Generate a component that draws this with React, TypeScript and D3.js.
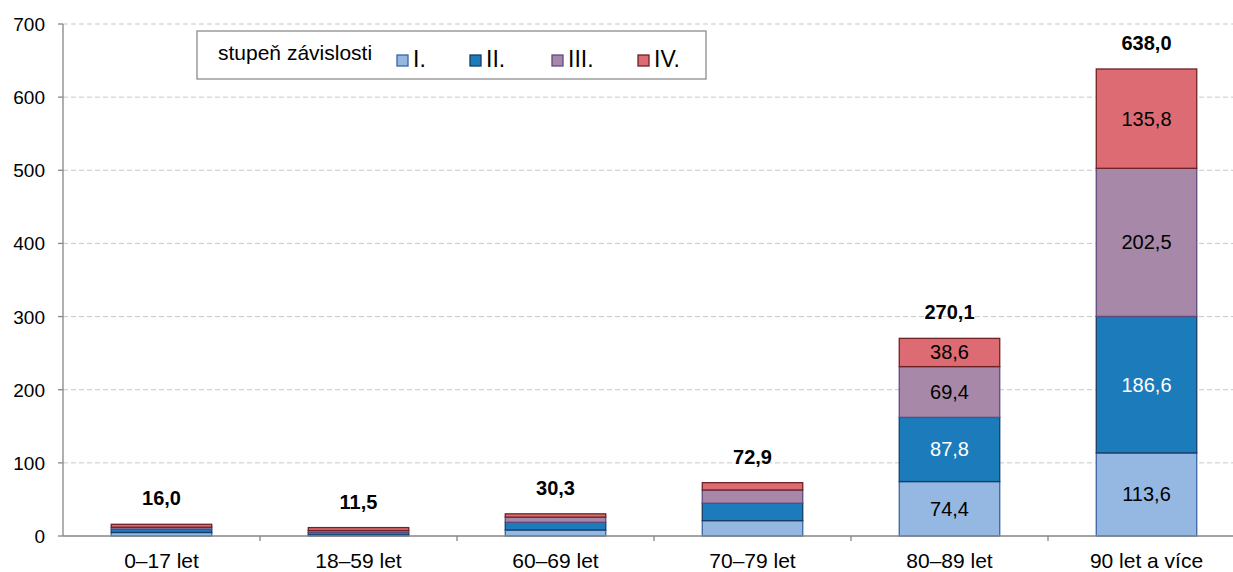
import { useMemo } from "react";
import * as d3 from "d3";

const categories = ["0–17 let", "18–59 let", "60–69 let", "70–79 let", "80–89 let", "90 let a více"];
const stupenI = [4.8, 1.5, 8.2, 21.0, 74.4, 113.6];
const stupenII = [4.6, 3.5, 10.6, 23.8, 87.8, 186.6];
const stupenIII = [2.6, 2.5, 7.0, 18.1, 69.4, 202.5];
const stupenIV = [4.0, 4.0, 4.5, 10.0, 38.6, 135.8];
const totals = [16.0, 11.5, 30.3, 72.9, 270.1, 638.0];
const yTicks = [0, 100, 200, 300, 400, 500, 600, 700];
// only the two big columns carry segment labels
const labelled = ["80–89 let", "90 let a více"];

const SERIES = [
  { key: "I.", values: stupenI, fill: "#95b8e2", stroke: "#3a64a0", text: "#000" },
  { key: "II.", values: stupenII, fill: "#1c7bba", stroke: "#173c64", text: "#fff" },
  { key: "III.", values: stupenIII, fill: "#a788a8", stroke: "#5e4a80", text: "#000" },
  { key: "IV.", values: stupenIV, fill: "#dd6b73", stroke: "#6e2224", text: "#000" },
];

const fmt = (v: number) => v.toFixed(1).replace(".", ",");

export default function App() {
  const width = 1233;
  const height = 572;
  const margin = { top: 24, right: -12, bottom: 36, left: 63 };

  const x = useMemo(
    () => d3.scaleBand<string>().domain(categories).range([margin.left, width - margin.right]).paddingInner(0.49).paddingOuter(0.245),
    []
  );
  const y = useMemo(() => d3.scaleLinear().domain([0, 700]).range([height - margin.bottom, margin.top]), []);

  const rows = categories.map((c, i) => {
    const row: Record<string, number | string> = { cat: c };
    SERIES.forEach(s => (row[s.key] = s.values[i]));
    return row;
  });
  const stacked = d3.stack<Record<string, number | string>>().keys(SERIES.map(s => s.key))(rows as any);

  const step = x.step();
  const x0 = margin.left;
  const font = "'Liberation Sans', Arial, sans-serif";

  const legendItems = [397, 470, 552, 638];

  return (
    <svg width={width} height={height} style={{ position: "absolute", left: 0, top: 0, fontFamily: font }}>
      <rect width={width} height={height} fill="#fff" />

      {/* Grid lines */}
      {yTicks.filter(t => t > 0).map(t => (
        <line key={t} x1={x0} x2={width} y1={y(t)} y2={y(t)} stroke="#c8c8c8" strokeDasharray="5,3" strokeWidth={1} />
      ))}

      {/* Bars */}
      {stacked.map((layer, si) =>
        layer.map((d, ci) => {
          const cat = categories[ci];
          const bx = x(cat)!;
          const y1 = y(d[1]);
          const y0 = y(d[0]);
          return (
            <rect key={`${si}-${ci}`} x={bx} y={y1} width={x.bandwidth()} height={y0 - y1}
              fill={SERIES[si].fill} stroke={SERIES[si].stroke} strokeWidth={1.3} />
          );
        })
      )}

      {/* Segment labels */}
      {stacked.map((layer, si) =>
        layer.map((d, ci) => {
          const cat = categories[ci];
          if (!labelled.includes(cat)) return null;
          return (
            <text key={`l${si}-${ci}`} x={x(cat)! + x.bandwidth() / 2} y={(y(d[0]) + y(d[1])) / 2 + 7}
              textAnchor="middle" fontSize={20} fill={SERIES[si].text}>
              {fmt(SERIES[si].values[ci])}
            </text>
          );
        })
      )}

      {/* Totals */}
      {categories.map((c, i) => (
        <text key={c} x={x(c)! + x.bandwidth() / 2} y={y(d3.sum(SERIES, s => s.values[i])) - 19}
          textAnchor="middle" fontSize={20} fontWeight="bold" fill="#000">
          {fmt(totals[i])}
        </text>
      ))}

      {/* Y axis */}
      <line x1={x0} x2={x0} y1={y(700)} y2={y(0)} stroke="#868686" strokeWidth={1.3} />
      {yTicks.map(t => (
        <g key={t}>
          <line x1={x0 - 5} x2={x0} y1={y(t)} y2={y(t)} stroke="#868686" strokeWidth={1.3} />
          <text x={x0 - 18} y={y(t) + 7} textAnchor="end" fontSize={19} fill="#000">{t}</text>
        </g>
      ))}

      {/* X axis */}
      <line x1={x0} x2={width} y1={y(0)} y2={y(0)} stroke="#868686" strokeWidth={1.3} />
      {categories.map((c, i) => (
        <g key={c}>
          <line x1={x0 + step * (i + 1)} x2={x0 + step * (i + 1)} y1={y(0)} y2={y(0) + 5} stroke="#868686" strokeWidth={1.3} />
          <text x={x(c)! + x.bandwidth() / 2} y={y(0) + 32} textAnchor="middle" fontSize={21} fill="#000">{c}</text>
        </g>
      ))}

      {/* Legend */}
      <rect x={197} y={31} width={509} height={48} fill="#fff" stroke="#8c8c8c" strokeWidth={1.3} />
      <text x={218} y={60} fontSize={21} fill="#000">stupeň závislosti</text>
      {SERIES.map((s, i) => (
        <g key={s.key}>
          <rect x={legendItems[i]} y={55} width={11} height={11} fill={s.fill} stroke={s.stroke} strokeWidth={1.3} />
          <text x={legendItems[i] + 16} y={67} fontSize={23} fill="#000">{s.key}</text>
        </g>
      ))}
    </svg>
  );
}
